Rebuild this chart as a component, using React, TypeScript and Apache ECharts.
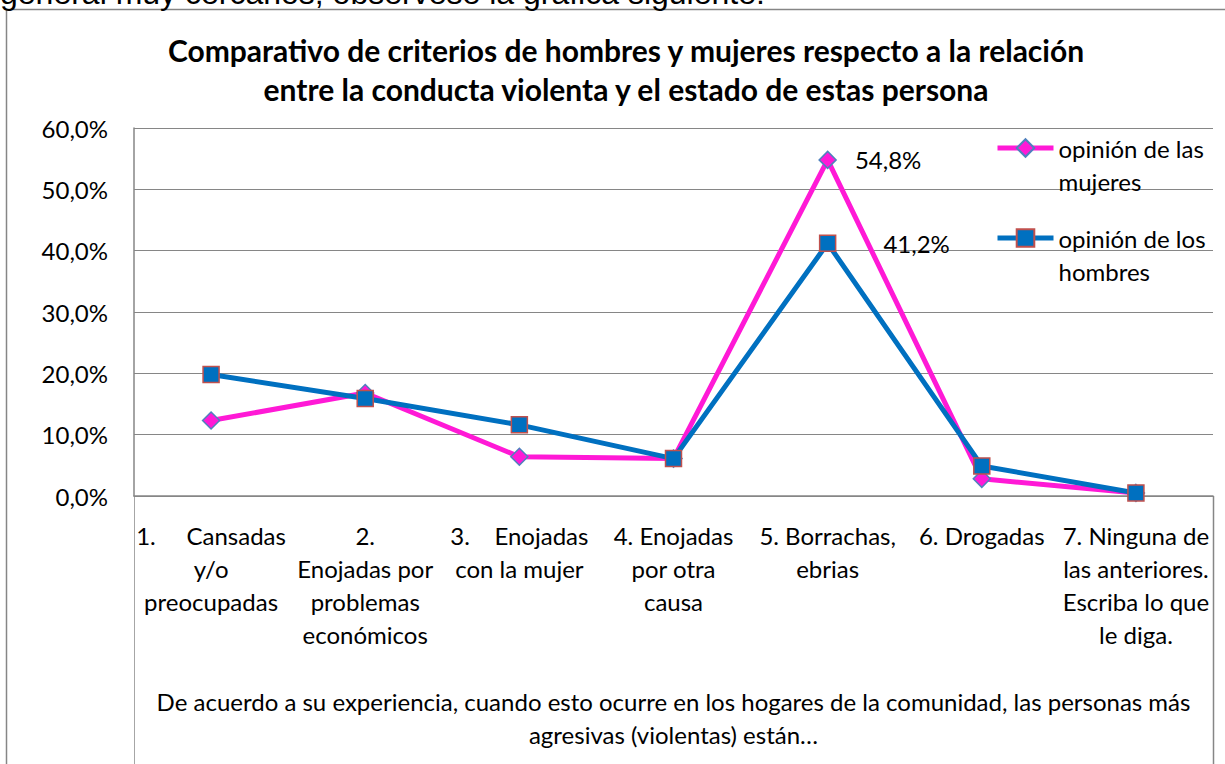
import React, { useEffect, useRef } from "react";
import * as echarts from "echarts";

const categories = [
  "1.     Cansadas\ny/o\npreocupadas",
  "2.\nEnojadas por\nproblemas\neconómicos",
  "3.    Enojadas\ncon la mujer",
  "4. Enojadas\npor otra\ncausa",
  "5. Borrachas,\nebrias",
  "6. Drogadas",
  "7. Ninguna de\nlas anteriores.\nEscriba lo que\nle diga.",
];
const mujeres = [12.3, 16.8, 6.4, 6.1, 54.8, 2.8, 0.5];
const hombres = [19.8, 15.9, 11.6, 6.1, 41.2, 4.9, 0.5];
const yTicks = { min: 0, max: 60, interval: 10 };
const labeledIndex = 4;
const seriesNames = ["opinión de las\nmujeres", "opinión de los\nhombres"];
const titleText =
  "Comparativo de criterios de hombres y mujeres respecto a la relación\nentre la conducta violenta y el estado de estas persona";
const axisTitle =
  "De acuerdo a su experiencia, cuando esto ocurre en los hogares de la comunidad, las personas más\nagresivas (violentas) están…";
const topText = "general muy cercanos, obsérvese la gráfica siguiente:";

const FONT = "Lato";
const FS = 24;
const PINK = "#FF19D6";
const BLUE = "#0070C0";
const fmt = (v: number) => v.toFixed(1).replace(".", ",") + "%";

export default function App() {
  const ref = useRef<HTMLDivElement>(null);
  useEffect(() => {
    if (!ref.current) return;
    const chart = echarts.init(ref.current, undefined, { renderer: "svg" });
    const gl = 134,
      gr = 1213,
      gb = 496;
    const mk = (vals: number[], dist: number) =>
      vals.map((v, i) =>
        i === labeledIndex
          ? {
              value: v,
              label: {
                show: true,
                position: "right",
                distance: dist,
                formatter: (p: any) => fmt(p.value),
                fontSize: FS,
                fontFamily: FONT,
                color: "#000",
              },
            }
          : v
      );
    chart.setOption({
      animation: false,
      textStyle: { fontFamily: FONT },
      title: {
        text: titleText,
        left: 621,
        top: 25.5,
        textAlign: "center",
        textStyle: {
          fontSize: 30,
          fontWeight: "bold",
          lineHeight: 39,
          fontFamily: FONT,
          color: "#000",
        },
      },
      legend: [0, 1].map((i) => ({
        data: [seriesNames[i]],
        formatter: (name: string) => "\n" + name,
        left: 990,
        top: [93.5, 183.5][i],
        itemWidth: 56,
        itemHeight: 22,
        itemGap: 4,
        lineStyle: { width: 5 },
        textStyle: {
          fontSize: FS,
          lineHeight: 33,
          fontFamily: FONT,
          color: "#000",
        },
        selectedMode: false,
      })),
      grid: { left: gl, right: 1225 - gr, top: 128, bottom: 764 - gb },
      xAxis: {
        type: "category",
        data: categories,
        boundaryGap: true,
        axisLine: { lineStyle: { color: "#868686", width: 1.5 } },
        axisTick: { show: false },
        axisLabel: {
          interval: 0,
          fontSize: FS,
          lineHeight: 33,
          fontFamily: FONT,
          color: "#000",
          margin: 23,
        },
        name: axisTitle,
        nameLocation: "middle",
        nameGap: 189,
        nameTextStyle: {
          fontSize: FS,
          lineHeight: 33,
          fontFamily: FONT,
          color: "#000",
        },
      },
      yAxis: {
        type: "value",
        min: yTicks.min,
        max: yTicks.max,
        interval: yTicks.interval,
        axisLine: { show: true, lineStyle: { color: "#868686", width: 1.5 } },
        axisTick: { show: false },
        splitLine: { lineStyle: { color: "#868686", width: 1 } },
        axisLabel: {
          formatter: fmt,
          fontSize: FS,
          fontFamily: FONT,
          color: "#000",
          margin: 26,
        },
      },
      graphic: [
        {
          type: "rect",
          shape: { x: 6.5, y: 9.5, width: 1400, height: 900 },
          style: { fill: "none", stroke: "#868686", lineWidth: 1.5 },
          z: -1,
        },
        {
          type: "line",
          shape: { x1: gl + 0.5, y1: gb, x2: gl + 0.5, y2: 764 },
          style: { stroke: "#A6A6A6", lineWidth: 1 },
        },
        {
          type: "line",
          shape: { x1: gr + 0.5, y1: gb, x2: gr + 0.5, y2: 764 },
          style: { stroke: "#868686", lineWidth: 1.5 },
        },
        {
          type: "text",
          x: 0,
          y: -7,
          style: {
            text: topText,
            font: "32px 'Liberation Sans'",
            fill: "#000",
            verticalAlign: "middle",
          },
        },
      ],
      series: [
        {
          name: seriesNames[0],
          type: "line",
          data: mk(mujeres, 18),
          symbol: "diamond",
          symbolSize: 17,
          lineStyle: { color: PINK, width: 5 },
          itemStyle: { color: PINK, borderColor: "#4F81BD", borderWidth: 1.5 },
          z: 2,
        },
        {
          name: seriesNames[1],
          type: "line",
          data: mk(hombres, 47),
          symbol: "rect",
          symbolSize: 16,
          lineStyle: { color: BLUE, width: 5 },
          itemStyle: { color: BLUE, borderColor: "#C0504D", borderWidth: 1.5 },
          z: 3,
        },
      ],
    });
    return () => chart.dispose();
  }, []);
  return (
    <div
      ref={ref}
      style={{ position: "absolute", left: 0, top: 0, width: 1225, height: 764 }}
    />
  );
}
